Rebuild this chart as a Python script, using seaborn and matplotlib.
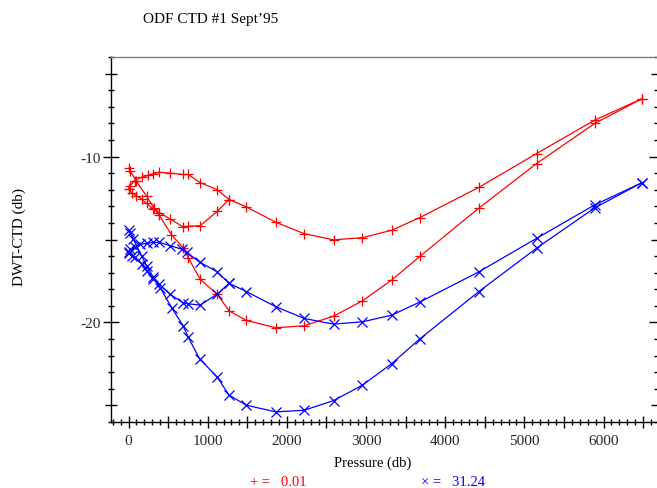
import numpy as np
import pandas as pd
import matplotlib
matplotlib.use("Agg")
import matplotlib.pyplot as plt
import seaborn as sns
from matplotlib.ticker import MultipleLocator, FuncFormatter

# ---------------- data ----------------
# red series (+), value 0.01
red_deep_p = [0, 20, 100, 230, 320, 390, 540, 690, 755, 905, 1120, 1270, 1490, 1860,
              2220, 2590, 2955, 3325, 3680, 4425, 5155, 5890, 6480]
red_deep_v = [-10.7, -10.85, -11.5, -12.4, -13.1, -13.55, -14.7, -15.5, -16.1, -17.4,
              -18.3, -19.3, -19.88, -20.32, -20.2, -19.62, -18.7, -17.44, -16.02,
              -13.11, -10.42, -8.0, -6.53]
red_loop_p = [0, 40, 100, 165, 230, 315, 390, 525, 690, 755, 905, 1120, 1270]
red_loop_v = [-11.94, -12.2, -12.36, -12.56, -12.83, -13.17, -13.38, -13.76, -14.24,
              -14.2, -14.17, -13.31, -12.59]
red_up_p = [0, 20, 80, 165, 250, 315, 390, 525, 690, 755, 905, 1120, 1270, 1490, 1860,
            2220, 2590, 2955, 3325, 3680, 4425, 5155, 5890, 6480]
red_up_v = [-11.94, -11.75, -11.45, -11.25, -11.13, -11.03, -10.95, -11.0, -11.08,
            -11.08, -11.57, -12.0, -12.59, -13.04, -13.96, -14.65, -15.02, -14.89,
            -14.44, -13.68, -11.86, -9.82, -7.8, -6.53]

# blue series (x), value 31.24
blue_deep_p = [0, 20, 60, 165, 230, 315, 400, 545, 690, 755, 900, 1120, 1270, 1490,
               1860, 2220, 2590, 2955, 3325, 3680, 4425, 5155, 5890, 6480]
blue_deep_v = [-14.45, -14.6, -14.97, -15.98, -16.59, -17.29, -17.9, -19.11, -20.2,
               -20.9, -22.2, -23.29, -24.38, -24.99, -25.39, -25.29, -24.71, -23.78,
               -22.48, -20.99, -18.14, -15.52, -13.09, -11.59]
blue_loop_p = [0, 40, 80, 165, 230, 315, 390, 525, 690, 755, 905, 1120, 1270]
blue_loop_v = [-15.8, -16.0, -16.08, -16.48, -16.89, -17.39, -17.7, -18.3, -18.82,
               -18.88, -18.95, -18.3, -17.64]
blue_up_p = [0, 20, 80, 145, 230, 315, 390, 525, 670, 735, 905, 1120, 1270, 1490, 1860,
             2220, 2590, 2955, 3325, 3680, 4425, 5155, 5890, 6480]
blue_up_v = [-15.75, -15.6, -15.47, -15.3, -15.23, -15.17, -15.17, -15.37, -15.58,
             -15.78, -16.38, -16.95, -17.64, -18.14, -19.05, -19.76, -20.1, -19.96,
             -19.56, -18.77, -16.95, -14.93, -12.91, -11.59]

series_labels = ["0.01", "31.24"]
title = "ODF CTD #1 Sept\u201995"
xlabel = "Pressure (db)"
ylabel = "DWT-CTD (db)"


def frame(branches):
    rows = []
    for name, (p, v) in branches.items():
        for i, (a, b) in enumerate(zip(p, v)):
            rows.append({"p": a, "v": b, "branch": name, "order": i})
    return pd.DataFrame(rows)


red_df = frame({"deep": (red_deep_p, red_deep_v), "loop": (red_loop_p, red_loop_v),
                "up": (red_up_p, red_up_v)})
blue_df = frame({"deep": (blue_deep_p, blue_deep_v), "loop": (blue_loop_p, blue_loop_v),
                 "up": (blue_up_p, blue_up_v)})

# ---------------- figure ----------------
sns.set_theme(style="ticks")
plt.rcParams["font.family"] = ["Liberation Serif", "DejaVu Serif"]
plt.rcParams["font.size"] = 10

W, H = 657, 489
fig = plt.figure(figsize=(W / 100, H / 100), dpi=100)
ax = fig.add_axes([111 / W, 1 - 423 / H, (657 - 111) / W, (423 - 58) / H])

common = dict(x="p", y="v", units="branch", estimator=None, sort=False, ax=ax,
              linewidth=0.9, markersize=6.5, markeredgewidth=0.9, legend=False)
sns.lineplot(data=red_df, color="#ff0000", marker="+", markeredgecolor="#ff0000", **common)
sns.lineplot(data=blue_df, color="#0000ff", marker="x", markeredgecolor="#0000ff", **common)

xmin = -17.5 / (475 / 6000)
xmax = (657 - 128.5) / (475 / 6000)
ax.set_xlim(xmin, xmax)
ax.set_ylim(-26, -4)

ax.set_xlabel("")
ax.set_ylabel("")

# ticks
ax.xaxis.set_major_locator(MultipleLocator(500))
ax.xaxis.set_minor_locator(MultipleLocator(100))
ax.xaxis.set_major_formatter(FuncFormatter(lambda v, pos: f"{int(round(v))}" if round(v) % 1000 == 0 else ""))
ax.yaxis.set_major_locator(MultipleLocator(5))
ax.yaxis.set_minor_locator(MultipleLocator(1))
ax.yaxis.set_major_formatter(FuncFormatter(lambda v, pos: f"{int(round(v))}" if round(v) % 10 == 0 else ""))

ax.tick_params(axis="x", which="major", direction="inout", length=9, width=1.0,
               color="black", labelsize=11, pad=4, top=False, bottom=True)
ax.tick_params(axis="x", which="minor", direction="inout", length=5, width=1.0,
               color="black", top=False, bottom=True)
ax.tick_params(axis="y", which="major", direction="inout", length=11, width=1.0,
               color="black", labelsize=11, pad=2, left=True, right=True)
ax.tick_params(axis="y", which="minor", direction="inout", length=5, width=1.0,
               color="black", left=True, right=True)

fig.canvas.draw()
for t, loc in zip(ax.xaxis.get_major_ticks(), ax.get_xticks()):
    if round(loc) % 1000 != 0:
        t.tick1line.set_markersize(8)
for t, loc in zip(ax.yaxis.get_major_ticks(), ax.get_yticks()):
    if round(loc) % 10 != 0:
        t.tick1line.set_markersize(8)
        t.tick2line.set_markersize(8)

for s in ["left", "bottom"]:
    ax.spines[s].set_color("black")
    ax.spines[s].set_linewidth(1.0)
ax.spines["top"].set_color("#808080")
ax.spines["top"].set_linewidth(1.0)
ax.spines["right"].set_visible(False)

# texts
fig.text(143 / W, 1 - 19 / H, title, ha="left", va="center", fontsize=11, color="black")
fig.text(19 / W, 1 - 237 / H, ylabel, rotation=90, ha="center", va="center",
         fontsize=11, color="black")
fig.text(373 / W, 1 - 463 / H, xlabel, ha="center", va="center", fontsize=10.5,
         color="black")
fig.text(250 / W, 1 - 483 / H, "+ =   " + series_labels[0], ha="left", va="center",
         fontsize=10.5, color="#ff0000")
fig.text(421 / W, 1 - 483 / H, "\u00d7 =   " + series_labels[1], ha="left", va="center",
         fontsize=10.5, color="#0000ff")

fig.savefig("out.png", dpi=100)
